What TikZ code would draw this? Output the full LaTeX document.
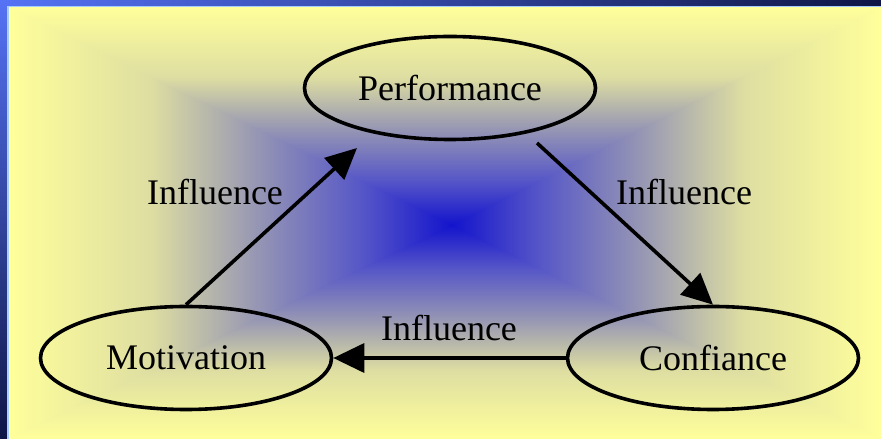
\documentclass[tikz,border=0pt]{standalone}
\usepackage{fontspec}
\setmainfont{Liberation Serif}[Ligatures=NoCommon]
\usetikzlibrary{shapes.geometric,arrows.meta}

\definecolor{bgyellow}{RGB}{255,255,155}
\definecolor{bgblue}{RGB}{20,20,205}
\definecolor{bgblueish}{RGB}{85,85,200}
\definecolor{bgpurple}{RGB}{150,150,180}
\definecolor{bgkhaki}{RGB}{222,222,162}
\definecolor{frameblue}{RGB}{85,115,245}
\definecolor{framenavy}{RGB}{15,22,70}
\definecolor{framelight}{RGB}{165,205,255}

\pgfdeclareverticalshading{pyramid}{100bp}{color(0bp)=(bgblue); color(25bp)=(bgblue);
  color(35bp)=(bgblueish); color(47bp)=(bgpurple); color(59bp)=(bgkhaki);
  color(75bp)=(bgyellow); color(100bp)=(bgyellow)}

\begin{document}
\begin{tikzpicture}[x=1pt, y=1pt, line width=3.6pt,
    font=\fontsize{36}{40}\selectfont,
    state/.style={ellipse, draw, inner sep=0pt, minimum width=291pt, minimum height=103pt},
    edge/.style={-{Triangle[length=31pt, width=29pt]}},
    lbl/.style={anchor=base, inner sep=0pt}]
        \useasboundingbox (0,0) rectangle (881,439);

        % window frame
        \shade[left color=frameblue, right color=framenavy] (0,432) rectangle (881,439);
        \shade[top color=frameblue, bottom color=framenavy] (0,0) rectangle (8,439);

        % background: left and right halves, then top and bottom wedges
        \coordinate (mid) at (452,214);
        \shade[shading=pyramid, shading angle=90] (8,0) rectangle (mid |- 0,432);
        \shade[shading=pyramid, shading angle=270] (mid |- 0,0) rectangle (881,432);
        \shade[shading=pyramid] (8,432) -- (881,432) -- (mid) -- cycle;
        \shade[shading=pyramid, shading angle=180] (8,0) -- (881,0) -- (mid) -- cycle;
        \draw[framelight, line width=1.5pt] (8,0) -- (8,432.5) -- (881,432.5);

        \node[state] (perf) at (450,351) {Performance};
        \node[state] (motiv) at (186,81) {Motivation};
        \node[state] (conf) at (713,81) {Confiance};

        \coordinate (perf in) at (357,291);
        \coordinate (perf out) at (537,296);

        \draw[edge] (motiv.north) -- (perf in);
        \draw[edge] (perf out) -- (conf.north);
        \draw[edge] (conf.west) -- (motiv.east);

        \node[lbl] (inf1) at (215,234) {Influence};
        \node[lbl] (inf2) at (684,234) {Influence};
        \node[lbl] (inf3) at (449,98) {Influence};
    \end{tikzpicture}
\end{document}
